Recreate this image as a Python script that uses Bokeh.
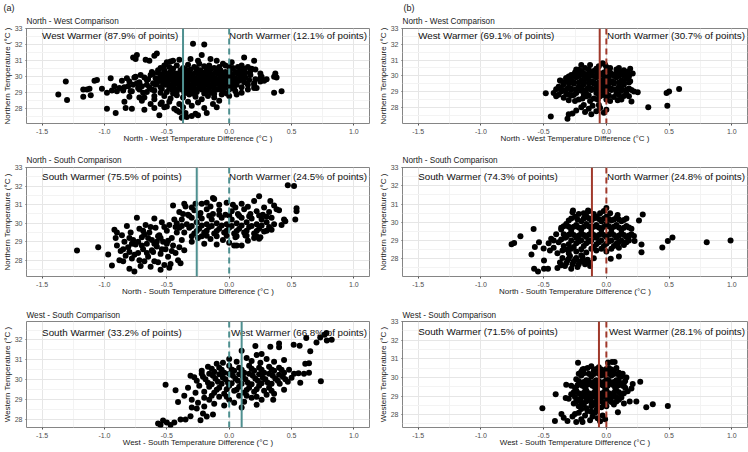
from bokeh.plotting import figure
from bokeh.layouts import column, row
from bokeh.models import FixedTicker, NumeralTickFormatter, Span, Title, Label, ColumnDataSource, Range1d
from bokeh.embed import file_html
from bokeh.resources import INLINE

FONT = "Liberation Sans"
TEAL = "#4F9090"
RED = "#A0392B"

x_ticks = [-1.5, -1.0, -0.5, 0.0, 0.5, 1.0]
x_minor = [-1.25, -0.75, -0.25, 0.25, 0.75]
y_ticks = [28, 29, 30, 31, 32, 33]
y_minor = [27.5, 28.5, 29.5, 30.5, 31.5, 32.5]

tags = ["(a)", "(b)"]
subtitles = ["North - West Comparison", "North - South Comparison", "West - South Comparison"]
x_labels = ["North - West Temperature Difference (°C )",
            "North - South Temperature Difference (°C )",
            "West - South Temperature Difference (°C )"]
y_labels = ["Northern Temperature (°C )", "Northern Temperature (°C )", "Western Temperature (°C )"]

left_texts = [["West Warmer (87.9% of points)", "West Warmer (69.1% of points)"],
              ["South Warmer (75.5% of points)", "South Warmer (74.3% of points)"],
              ["South Warmer (33.2% of points)", "South Warmer (71.5% of points)"]]
right_texts = [["North Warmer (12.1% of points)", "North Warmer (30.7% of points)"],
               ["North Warmer (24.5% of points)", "North Warmer (24.8% of points)"],
               ["West Warmer (66.8% of points)", "West Warmer (28.1% of points)"]]

mean_diffs = [[-0.37, -0.053], [-0.26, -0.115], [0.10, -0.059]]

# ---------------- data: (difference, temperature) ----------------
nw_a = [
    (-1.37, 28.90), (-1.31, 29.70), (-1.30, 28.55), (-1.17, 29.20), (-1.17, 28.75), (-1.14, 29.20),
    (-1.12, 29.25), (-1.11, 28.85), (-1.08, 29.75), (-1.06, 29.80), (-1.02, 29.25), (-0.98, 29.00),
    (-0.98, 28.00), (-0.95, 29.90), (-0.94, 29.15), (-0.91, 27.75), (-0.90, 29.10), (-0.88, 29.30),
    (-0.86, 29.75), (-0.85, 29.15), (-0.84, 28.45), (-0.83, 28.05), (-0.82, 29.90), (-0.81, 29.40),
    (-0.80, 28.75), (-0.79, 29.10), (-0.78, 28.00), (-0.77, 31.20), (-0.76, 29.95), (-0.75, 31.10),
    (-0.74, 31.35), (-0.74, 29.60), (-0.73, 29.30), (-0.72, 28.70), (-0.71, 30.10), (-0.70, 28.50),
    (-0.69, 29.00), (-0.68, 27.95), (-0.67, 31.05), (-0.66, 29.50), (-0.65, 29.85), (-0.64, 31.00),
    (-0.63, 28.30), (-0.62, 29.20), (-0.61, 30.20), (-0.60, 31.30), (-0.60, 28.80), (-0.58, 31.45),
    (-0.58, 29.60), (-0.57, 30.40), (-0.56, 27.60), (-0.55, 29.00), (-0.54, 28.40), (-0.53, 29.90),
    (-0.52, 30.70), (-0.52, 28.10),
    (-0.50, 30.90), (-0.47, 30.95), (-0.45, 31.00), (-0.40, 31.05), (-0.31, 31.10), (-0.22, 31.35),
    (-0.25, 31.00), (-0.15, 31.10), (-0.10, 31.00), (-0.05, 30.80), (0.02, 30.90), (0.12, 31.20), (0.20, 31.00),
    (-0.55, 30.55), (-0.48, 30.60), (-0.42, 30.70), (-0.37, 30.55), (-0.33, 30.75), (-0.28, 30.60),
    (-0.24, 30.80), (-0.20, 30.65), (-0.16, 30.70), (-0.12, 30.55), (-0.08, 30.60), (-0.03, 30.70),
    (0.03, 30.55), (0.07, 30.60), (0.10, 30.70), (0.15, 30.60), (0.18, 30.50),
    (-0.62, 30.30), (-0.57, 30.25), (-0.52, 30.40), (-0.47, 30.30), (-0.43, 30.20), (-0.39, 30.40),
    (-0.35, 30.30), (-0.31, 30.45), (-0.27, 30.25), (-0.23, 30.40), (-0.19, 30.30), (-0.15, 30.45),
    (-0.11, 30.25), (-0.07, 30.40), (-0.03, 30.30), (0.01, 30.45), (0.05, 30.30), (0.09, 30.40),
    (0.13, 30.25), (0.17, 30.35), (0.21, 30.45), (0.25, 30.20),
    (-0.75, 30.00), (-0.68, 29.95), (-0.63, 30.10), (-0.59, 29.90), (-0.55, 30.05), (-0.51, 29.95),
    (-0.47, 30.10), (-0.43, 29.90), (-0.39, 30.05), (-0.35, 29.95), (-0.31, 30.10), (-0.27, 29.90),
    (-0.23, 30.05), (-0.19, 29.95), (-0.15, 30.10), (-0.11, 29.90), (-0.07, 30.05), (-0.03, 29.95),
    (0.01, 30.10), (0.05, 29.90), (0.09, 30.05), (0.13, 29.95), (0.17, 30.10), (0.21, 29.85),
    (0.26, 30.00), (0.28, 29.75),
    (-0.80, 29.70), (-0.72, 29.65), (-0.66, 29.80), (-0.61, 29.60), (-0.56, 29.75), (-0.52, 29.65),
    (-0.48, 29.80), (-0.44, 29.60), (-0.40, 29.75), (-0.36, 29.65), (-0.32, 29.80), (-0.28, 29.60),
    (-0.24, 29.75), (-0.20, 29.65), (-0.16, 29.80), (-0.12, 29.60), (-0.08, 29.75), (-0.04, 29.65),
    (0.00, 29.80), (0.04, 29.60), (0.08, 29.75), (0.12, 29.65), (0.16, 29.80), (0.20, 29.60), (0.25, 29.70),
    (-0.92, 29.40), (-0.84, 29.35), (-0.77, 29.50), (-0.70, 29.40), (-0.64, 29.35), (-0.59, 29.50),
    (-0.55, 29.35), (-0.51, 29.50), (-0.47, 29.40), (-0.43, 29.55), (-0.39, 29.35), (-0.35, 29.50),
    (-0.31, 29.40), (-0.27, 29.55), (-0.23, 29.35), (-0.19, 29.50), (-0.15, 29.40), (-0.11, 29.55),
    (-0.07, 29.35), (-0.03, 29.50), (0.02, 29.40), (0.06, 29.50), (0.10, 29.35), (0.15, 29.50), (0.20, 29.30),
    (-0.78, 29.10), (-0.72, 29.20), (-0.66, 29.05), (-0.60, 29.15), (-0.54, 29.25), (-0.50, 29.05),
    (-0.46, 29.20), (-0.42, 29.10), (-0.38, 29.20), (-0.34, 29.00), (-0.30, 29.15), (-0.26, 29.05),
    (-0.22, 29.20), (-0.18, 29.10), (-0.14, 29.00), (-0.10, 29.20), (-0.05, 29.05), (0.00, 29.20),
    (0.05, 29.10), (0.10, 29.00), (0.15, 29.20),
    (-0.68, 28.70), (-0.60, 28.60), (-0.52, 28.80), (-0.47, 28.65), (-0.42, 28.85), (-0.37, 28.70),
    (-0.32, 28.90), (-0.27, 28.75), (-0.22, 28.60), (-0.17, 28.80), (-0.12, 28.70), (-0.06, 28.90),
    (0.00, 28.80), (0.06, 28.90),
    (-0.60, 28.05), (-0.55, 28.30), (-0.50, 28.15), (-0.48, 28.45), (-0.44, 28.00), (-0.40, 28.30),
    (-0.37, 28.10), (-0.33, 28.45), (-0.30, 28.20), (-0.25, 28.40), (-0.20, 28.05), (-0.13, 28.30),
    (-0.08, 28.50), (-0.10, 28.10),
    (-0.38, 27.45), (-0.36, 27.60), (-0.34, 27.50), (-0.35, 27.75), (-0.30, 27.55), (-0.27, 27.70),
    (-0.25, 27.60), (-0.18, 27.75), (-0.42, 27.90), (-0.40, 27.80),
    (-0.29, 32.05), (-0.20, 32.00),
    (0.42, 29.10), (0.36, 29.00), (0.36, 30.00), (0.37, 30.20), (0.38, 29.95), (0.30, 29.85),
    (0.22, 29.30), (0.20, 29.50), (0.25, 29.90),
    (-0.53, 30.18), (-0.49, 30.20), (-0.45, 30.15), (-0.41, 30.18), (-0.37, 30.15), (-0.33, 30.20),
    (-0.29, 30.15), (-0.25, 30.18), (-0.21, 30.15), (-0.17, 30.20), (-0.13, 30.15), (-0.09, 30.18),
    (-0.05, 30.15), (-0.01, 30.20), (0.03, 30.15), (0.07, 30.18), (0.11, 30.15),
    (-0.50, 29.82), (-0.46, 29.85), (-0.42, 29.80), (-0.38, 29.85), (-0.34, 29.82), (-0.30, 29.85),
    (-0.26, 29.80), (-0.22, 29.85), (-0.18, 29.82), (-0.14, 29.85), (-0.10, 29.80), (-0.06, 29.85),
    (-0.02, 29.82), (0.02, 29.85), (0.06, 29.80), (0.10, 29.85),
    (-0.53, 29.58), (-0.49, 29.55), (-0.45, 29.60), (-0.41, 29.55), (-0.37, 29.58), (-0.33, 29.55),
    (-0.29, 29.60), (-0.25, 29.55), (-0.21, 29.58), (-0.17, 29.55), (-0.13, 29.60), (-0.09, 29.55),
    (-0.05, 29.58), (-0.01, 29.55), (0.03, 29.60),
    (-0.48, 29.28), (-0.44, 29.25), (-0.40, 29.30), (-0.36, 29.25), (-0.32, 29.28), (-0.28, 29.25),
    (-0.24, 29.30), (-0.20, 29.25), (-0.16, 29.28), (-0.12, 29.25), (-0.08, 29.22), (-0.04, 29.28),
    (0.04, 29.25),
    (-0.45, 28.95), (-0.36, 28.98), (-0.28, 28.92), (-0.20, 28.95), (-0.12, 28.92), (-0.02, 28.95),
    (-0.45, 30.50), (-0.35, 30.45), (-0.26, 30.50), (-0.18, 30.50), (-0.10, 30.45), (0.00, 30.60),
    (0.12, 30.50),
]

nw_b = [
    (0.58, 29.16), (0.50, 29.00), (0.48, 28.90), (0.486, 28.10), (0.334, 28.00), (0.25, 28.95),
    (0.20, 28.36), (-0.483, 28.89), (-0.443, 27.41), (-0.31, 27.27),
    (-0.20, 30.68), (-0.13, 30.68), (-0.03, 30.80), (-0.01, 30.70), (-0.17, 30.50), (-0.08, 30.45),
    (0.03, 30.50), (0.08, 30.40), (0.19, 30.45), (-0.24, 30.40),
    (-0.25, 30.20), (-0.20, 30.30), (-0.15, 30.10), (-0.10, 30.30), (-0.05, 30.15), (0.00, 30.30),
    (0.05, 30.10), (0.10, 30.25), (0.15, 30.05), (0.21, 30.15), (-0.28, 30.05), (-0.12, 30.05),
    (-0.37, 29.70), (-0.32, 29.85), (-0.28, 29.70), (-0.24, 29.90), (-0.20, 29.70), (-0.16, 29.85),
    (-0.12, 29.65), (-0.08, 29.90), (-0.04, 29.70), (0.00, 29.85), (0.04, 29.65), (0.08, 29.90),
    (0.12, 29.70), (0.16, 29.85), (0.19, 29.65), (-0.02, 29.60), (-0.18, 29.60),
    (-0.38, 29.30), (-0.34, 29.45), (-0.30, 29.25), (-0.26, 29.50), (-0.22, 29.30), (-0.18, 29.45),
    (-0.14, 29.25), (-0.10, 29.50), (-0.06, 29.30), (-0.02, 29.45), (0.02, 29.25), (0.06, 29.50),
    (0.10, 29.30), (0.14, 29.45), (0.18, 29.20), (-0.08, 29.40), (0.00, 29.35),
    (-0.42, 28.90), (-0.36, 29.00), (-0.32, 28.85), (-0.28, 29.10), (-0.24, 28.90), (-0.20, 29.05),
    (-0.16, 28.85), (-0.12, 29.10), (-0.08, 28.90), (-0.04, 29.05), (0.00, 28.85), (0.04, 29.10),
    (0.08, 28.90), (0.12, 29.05), (0.16, 28.85), (0.22, 29.00),
    (-0.40, 28.70), (-0.34, 28.60), (-0.28, 28.75), (-0.22, 28.50), (-0.16, 28.70), (-0.10, 28.55),
    (-0.05, 28.70), (0.00, 28.50), (0.06, 28.65), (0.12, 28.50), (-0.25, 28.40),
    (-0.27, 27.60), (-0.24, 27.80), (-0.20, 28.00), (-0.17, 27.70), (-0.14, 27.90), (-0.11, 28.10),
    (-0.08, 27.75), (-0.05, 27.95), (-0.02, 27.65), (0.00, 27.85), (-0.12, 27.55), (-0.30, 27.55),
    (-0.06, 28.15), (-0.18, 28.15),
    (-0.364, 29.69), (-0.32, 29.84), (-0.38, 29.27),
    (-0.22, 30.38), (-0.14, 30.38), (-0.06, 30.60), (0.00, 30.55), (0.10, 30.50), (0.14, 30.35),
    (-0.22, 30.20), (-0.18, 30.15), (-0.12, 30.20), (-0.07, 30.20), (-0.02, 30.20), (0.03, 30.20),
    (0.08, 30.15), (0.12, 30.15), (0.17, 30.25),
    (-0.30, 29.95), (-0.26, 29.98), (-0.22, 30.00), (-0.18, 29.98), (-0.14, 29.95), (-0.10, 29.98),
    (-0.06, 30.00), (-0.02, 29.98), (0.02, 29.95), (0.06, 29.98), (0.10, 30.00), (0.14, 29.98), (0.18, 29.95),
    (-0.34, 29.58), (-0.30, 29.55), (-0.26, 29.60), (-0.22, 29.58), (-0.14, 29.55), (-0.10, 29.60),
    (-0.06, 29.58), (0.02, 29.55), (0.06, 29.60), (0.10, 29.58), (0.14, 29.55), (0.18, 29.58),
    (-0.40, 29.15), (-0.36, 29.18), (-0.32, 29.12), (-0.28, 29.18), (-0.24, 29.15), (-0.20, 29.20),
    (-0.16, 29.12), (-0.12, 29.18), (-0.08, 29.15), (-0.04, 29.20), (0.00, 29.12), (0.04, 29.18),
    (0.08, 29.15), (0.12, 29.20), (0.16, 29.12), (0.20, 29.10),
    (-0.38, 28.80), (-0.30, 28.80), (-0.26, 28.78), (-0.18, 28.78), (-0.14, 28.75), (-0.06, 28.78),
    (-0.02, 28.78), (0.02, 28.75), (0.10, 28.78), (0.14, 28.72), (0.18, 28.70),
    (-0.30, 28.45), (-0.19, 28.55), (-0.13, 28.40), (-0.07, 28.50), (0.03, 28.40), (0.09, 28.45),
]

ns_a = [
    (-1.22, 28.53), (-1.05, 28.71), (-0.97, 28.31),
    (-0.94, 27.72), (-0.92, 29.65), (-0.91, 29.20), (-0.90, 28.80), (-0.88, 28.00), (-0.87, 28.50),
    (-0.86, 29.35), (-0.85, 27.95), (-0.84, 29.00), (-0.83, 28.25), (-0.82, 29.85), (-0.81, 28.70),
    (-0.80, 27.55), (-0.79, 29.50), (-0.78, 28.10), (-0.77, 29.10), (-0.76, 27.40), (-0.75, 28.85),
    (-0.74, 30.30), (-0.73, 28.40), (-0.72, 29.70), (-0.71, 27.70), (-0.70, 29.25), (-0.69, 28.60),
    (-0.68, 27.95), (-0.67, 29.90), (-0.66, 28.90), (-0.65, 28.20), (-0.64, 29.50), (-0.63, 27.65),
    (-0.62, 29.10), (-0.61, 28.45), (-0.60, 30.25), (-0.59, 29.75), (-0.58, 28.75), (-0.57, 27.90),
    (-0.56, 29.35), (-0.55, 28.35), (-0.54, 30.05), (-0.53, 29.00), (-0.52, 27.75), (-0.51, 28.60),
    (-0.50, 29.60), (-0.49, 28.20), (-0.48, 29.90), (-0.47, 27.80), (-0.46, 29.20), (-0.45, 28.80),
    (-0.44, 30.20), (-0.43, 28.40), (-0.42, 29.50), (-0.41, 28.00), (-0.40, 29.75), (-0.39, 27.85),
    (-0.38, 29.10), (-0.37, 30.50), (-0.36, 28.55),
    (-0.90, 29.50), (-0.85, 28.60), (-0.80, 29.20), (-0.76, 28.30), (-0.73, 29.00), (-0.69, 29.60),
    (-0.66, 28.40), (-0.63, 29.80), (-0.60, 28.90), (-0.57, 29.30), (-0.54, 28.60), (-0.52, 29.80),
    (-0.49, 29.05), (-0.46, 28.50), (-0.43, 29.80), (-0.40, 28.70), (-0.72, 28.00), (-0.80, 28.45),
    (-0.58, 29.00), (-0.65, 29.20), (-0.48, 27.60), (-0.55, 27.50), (-0.60, 27.95),
    (-0.70, 28.80), (-0.62, 28.55), (-0.55, 29.20), (-0.50, 28.90), (-0.68, 29.40), (-0.78, 28.90),
    (-0.45, 30.95), (-0.35, 30.90), (-0.22, 31.05), (-0.12, 31.30), (-0.08, 31.00), (-0.02, 31.10),
    (0.03, 31.00), (0.10, 31.05), (0.24, 31.45), (0.20, 31.20), (0.33, 31.20), (-0.18, 31.10),
    (-0.27, 31.05), (-0.36, 31.05), (-0.13, 31.36),
    (-0.30, 30.85), (-0.15, 30.90), (0.05, 30.85), (0.15, 30.88), (0.28, 30.85),
    (-0.40, 30.60), (-0.33, 30.45), (-0.28, 30.70), (-0.23, 30.55), (-0.18, 30.75), (-0.13, 30.50),
    (-0.08, 30.70), (-0.03, 30.45), (0.02, 30.65), (0.07, 30.50), (0.12, 30.75), (0.17, 30.50),
    (0.22, 30.65), (0.27, 30.45), (0.32, 30.60), (0.38, 30.75), (0.40, 30.70),
    (-0.32, 30.40), (-0.24, 30.42), (-0.16, 30.40), (-0.08, 30.45), (0.00, 30.42), (0.08, 30.40),
    (0.16, 30.38), (0.24, 30.42), (0.30, 30.35),
    (-0.42, 30.00), (-0.38, 30.20), (-0.34, 29.95), (-0.30, 30.30), (-0.26, 30.05), (-0.22, 30.25),
    (-0.18, 29.95), (-0.14, 30.20), (-0.10, 30.00), (-0.06, 30.30), (-0.02, 29.95), (0.02, 30.20),
    (0.06, 30.00), (0.10, 30.30), (0.14, 30.05), (0.18, 30.25), (0.22, 29.95), (0.26, 30.20),
    (0.30, 30.05), (0.34, 30.30), (0.36, 29.95),
    (-0.38, 29.85), (-0.30, 29.85), (-0.22, 29.88), (-0.14, 29.85), (-0.06, 29.88), (0.02, 29.85),
    (0.10, 29.88), (0.18, 29.85), (0.26, 29.88), (0.34, 29.65),
    (-0.36, 29.50), (-0.32, 29.75), (-0.28, 29.45), (-0.24, 29.70), (-0.20, 29.50), (-0.16, 29.80),
    (-0.12, 29.45), (-0.08, 29.70), (-0.04, 29.50), (0.00, 29.75), (0.04, 29.45), (0.08, 29.70),
    (0.12, 29.50), (0.16, 29.80), (0.20, 29.45), (0.24, 29.70), (0.28, 29.55), (0.32, 29.80),
    (-0.26, 29.58), (-0.18, 29.60), (-0.10, 29.58), (-0.02, 29.60), (0.06, 29.58), (0.14, 29.60),
    (0.22, 29.58), (0.30, 29.60),
    (-0.30, 29.30), (-0.18, 29.32), (-0.10, 29.30), (-0.02, 29.32), (0.06, 29.30), (0.14, 29.32),
    (0.22, 29.28),
    (-0.30, 29.00), (-0.25, 29.20), (-0.20, 28.90), (-0.15, 29.15), (-0.10, 28.85), (-0.05, 29.10),
    (0.00, 28.95), (0.05, 29.25), (0.10, 28.80), (0.15, 29.05), (0.20, 29.20), (0.25, 29.25),
    (0.06, 28.80), (-0.22, 29.30), (0.13, 29.34), (0.24, 29.16), (0.04, 28.80),
    (0.47, 32.05), (0.52, 32.00), (0.54, 30.80), (0.54, 30.65), (0.53, 30.20), (0.45, 30.10),
    (0.42, 29.90), (0.36, 30.95), (0.44, 30.20),
]

ns_b = [
    (-0.756, 28.79), (-0.735, 28.86), (-0.685, 29.23), (-0.597, 28.24), (-0.58, 29.63), (-0.57, 28.64),
    (-0.576, 27.45), (-0.545, 27.30), (-0.497, 27.90), (-0.497, 27.45), (-0.465, 27.46), (-0.537, 28.91),
    (-0.50, 28.57),
    (0.446, 28.62), (0.49, 28.97), (0.527, 29.17), (0.80, 28.90), (0.99, 29.00), (0.28, 28.36),
    (0.28, 28.78), (0.225, 28.97), (0.26, 30.10), (0.29, 30.42), (0.10, 28.13), (0.035, 28.00),
    (-0.10, 28.03),
    (-0.46, 28.85), (-0.44, 29.10), (-0.42, 28.60), (-0.40, 29.35), (-0.38, 28.90), (-0.36, 29.60),
    (-0.34, 28.70), (-0.33, 29.15), (-0.45, 28.45), (-0.39, 28.30), (-0.31, 28.50),
    (-0.39, 27.50), (-0.37, 27.80), (-0.35, 28.05), (-0.33, 27.60), (-0.31, 27.90), (-0.29, 28.15),
    (-0.27, 27.70), (-0.25, 27.95), (-0.23, 27.55), (-0.21, 27.85), (-0.19, 28.10), (-0.17, 27.70),
    (-0.15, 27.95), (-0.13, 27.60), (-0.28, 27.45), (-0.20, 28.20),
    (-0.36, 27.65), (-0.32, 27.75), (-0.26, 27.85), (-0.22, 27.70), (-0.18, 27.85), (-0.14, 27.80),
    (-0.24, 28.05), (-0.30, 28.00),
    (-0.266, 30.65), (-0.146, 30.65), (0.00, 30.78), (0.09, 30.40), (-0.27, 30.55), (-0.14, 30.60),
    (-0.22, 30.45), (-0.18, 30.50), (-0.10, 30.45), (-0.05, 30.50), (0.03, 30.50), (-0.02, 30.62),
    (-0.30, 30.10), (-0.25, 30.30), (-0.20, 30.05), (-0.16, 30.35), (-0.12, 30.10), (-0.08, 30.30),
    (-0.04, 30.05), (0.00, 30.30), (0.04, 30.10), (0.08, 30.25), (0.12, 30.05), (0.16, 30.20),
    (-0.28, 30.20), (-0.23, 30.15), (-0.18, 30.20), (-0.14, 30.22), (-0.10, 30.20), (-0.06, 30.18),
    (-0.02, 30.20), (0.02, 30.18), (0.06, 30.15), (0.10, 30.15), (0.14, 30.12),
    (-0.36, 29.70), (-0.32, 29.90), (-0.28, 29.60), (-0.24, 29.85), (-0.20, 29.60), (-0.16, 29.90),
    (-0.12, 29.65), (-0.08, 29.85), (-0.04, 29.60), (0.00, 29.90), (0.04, 29.65), (0.08, 29.85),
    (0.12, 29.60), (0.16, 29.80), (0.20, 29.65),
    (-0.34, 29.78), (-0.30, 29.75), (-0.26, 29.75), (-0.22, 29.72), (-0.18, 29.75), (-0.14, 29.78),
    (-0.10, 29.75), (-0.06, 29.72), (-0.02, 29.75), (0.02, 29.78), (0.06, 29.75), (0.10, 29.72),
    (0.14, 29.70), (0.18, 29.72),
    (-0.32, 29.20), (-0.28, 29.45), (-0.24, 29.15), (-0.20, 29.40), (-0.16, 29.20), (-0.12, 29.45),
    (-0.08, 29.15), (-0.04, 29.40), (0.00, 29.20), (0.04, 29.45), (0.08, 29.15), (0.12, 29.40),
    (0.16, 29.20), (0.20, 29.35), (-0.06, 29.30),
    (-0.34, 29.35), (-0.30, 29.32), (-0.26, 29.30), (-0.22, 29.28), (-0.18, 29.30), (-0.14, 29.32),
    (-0.10, 29.30), (-0.02, 29.30), (0.02, 29.32), (0.06, 29.30), (0.10, 29.28), (0.14, 29.30),
    (0.18, 29.28), (0.22, 29.25),
    (-0.30, 28.80), (-0.26, 28.65), (-0.22, 28.95), (-0.18, 28.70), (-0.14, 28.95), (-0.10, 28.65),
    (-0.06, 28.90), (-0.02, 28.70), (0.02, 28.95), (0.06, 28.70), (0.10, 28.90), (0.14, 28.75),
    (0.18, 29.00),
    (-0.28, 29.00), (-0.24, 28.85), (-0.20, 29.02), (-0.16, 28.85), (-0.12, 29.02), (-0.08, 28.80),
    (-0.04, 29.00), (0.00, 28.82), (0.04, 29.00), (0.08, 28.82), (0.12, 29.00), (0.16, 28.90),
    (-0.36, 29.05), (-0.42, 29.00),
    (-0.24, 28.40), (-0.16, 28.35), (-0.08, 28.45), (0.00, 28.40), (-0.30, 28.30),
    (-0.28, 28.55), (-0.20, 28.52), (-0.12, 28.55), (-0.04, 28.55), (0.04, 28.55), (0.10, 28.60),
    (-0.35, 28.45),
]

ws_a = [
    (-0.57, 27.80), (-0.55, 27.72), (-0.53, 27.95), (-0.50, 27.85), (-0.47, 27.72), (-0.44, 27.85),
    (-0.39, 28.00), (-0.35, 28.00), (-0.31, 28.17), (-0.23, 27.97), (-0.21, 28.30), (-0.18, 28.15),
    (-0.13, 28.25), (-0.26, 28.55), (-0.30, 28.60),
    (-0.51, 29.75), (-0.43, 29.47), (-0.41, 28.88), (-0.33, 29.60), (-0.31, 30.20), (-0.28, 30.13),
    (-0.36, 29.20), (-0.30, 29.00), (-0.27, 29.35), (-0.25, 28.85), (-0.24, 29.70), (-0.22, 30.30),
    (-0.20, 29.10),
    (-0.05, 30.85), (0.00, 31.05), (0.06, 30.90), (0.10, 31.46), (0.14, 31.10), (0.18, 30.95),
    (0.21, 31.70), (0.22, 31.25), (0.26, 31.30), (0.30, 31.05), (0.33, 31.66), (0.36, 30.90),
    (0.40, 31.83), (0.40, 31.63), (0.44, 31.00), (0.25, 30.85), (-0.10, 30.80),
    (-0.14, 30.55), (-0.06, 30.50), (0.02, 30.52), (0.10, 30.50), (0.18, 30.55), (0.26, 30.50),
    (0.34, 30.52), (0.42, 30.50),
    (-0.22, 30.45), (-0.17, 30.65), (-0.12, 30.40), (-0.08, 30.60), (-0.04, 30.35), (0.00, 30.70),
    (0.04, 30.45), (0.08, 30.60), (0.12, 30.35), (0.16, 30.70), (0.20, 30.45), (0.24, 30.60),
    (0.28, 30.35), (0.32, 30.65), (0.36, 30.45), (0.40, 30.60), (0.44, 30.35), (0.48, 30.50),
    (0.52, 30.30), (0.556, 30.33), (0.60, 30.30), (0.64, 30.35), (0.61, 30.80), (0.64, 30.83),
    (-0.16, 30.30), (-0.08, 30.28), (0.00, 30.30), (0.08, 30.28), (0.16, 30.30), (0.24, 30.28),
    (0.32, 30.30), (0.40, 30.25),
    (-0.26, 29.95), (-0.21, 30.15), (-0.17, 29.85), (-0.13, 30.20), (-0.09, 29.90), (-0.05, 30.10),
    (-0.01, 29.85), (0.03, 30.20), (0.07, 29.95), (0.11, 30.15), (0.15, 29.85), (0.19, 30.20),
    (0.23, 29.95), (0.27, 30.10), (0.31, 29.85), (0.35, 30.20), (0.39, 29.95), (0.43, 30.15),
    (0.47, 29.90), (0.50, 30.10), (0.405, 29.80), (0.57, 29.85), (0.735, 29.93),
    (-0.19, 30.02), (-0.11, 30.05), (-0.03, 30.02), (0.05, 30.05), (0.13, 30.02), (0.21, 30.05),
    (0.29, 30.02), (0.37, 30.05), (0.45, 30.02),
    (-0.14, 29.78), (-0.06, 29.80), (0.02, 29.82), (0.10, 29.80), (0.18, 29.78), (0.26, 29.82),
    (0.34, 29.80),
    (-0.20, 29.40), (-0.16, 29.65), (-0.12, 29.35), (-0.08, 29.60), (-0.04, 29.30), (0.00, 29.70),
    (0.04, 29.45), (0.08, 29.65), (0.12, 29.35), (0.16, 29.60), (0.20, 29.40), (0.24, 29.70),
    (0.28, 29.45), (0.32, 29.60), (0.36, 29.30), (0.44, 29.50), (0.30, 29.25),
    (-0.10, 29.50), (-0.02, 29.52), (0.06, 29.50), (0.14, 29.48), (0.22, 29.52), (0.34, 29.45),
    (-0.14, 29.20), (-0.02, 29.15), (0.14, 29.20), (0.22, 29.15),
    (-0.16, 29.00), (-0.12, 28.80), (-0.08, 29.15), (-0.04, 28.70), (0.00, 29.00), (0.04, 28.85),
    (0.08, 29.20), (0.12, 28.90), (0.18, 29.10), (0.22, 28.75), (0.26, 29.00), (0.353, 29.00),
    (-0.20, 28.65), (0.10, 28.60),
    (0.822, 32.01), (0.783, 31.97), (0.764, 32.26), (0.73, 32.13), (0.70, 31.88), (0.618, 32.10),
    (0.565, 31.71), (0.517, 31.76), (0.65, 31.43), (0.78, 32.35),
]

ws_b = [
    (-0.51, 28.35), (-0.404, 29.10), (-0.41, 27.66), (-0.358, 28.04), (-0.34, 27.83), (-0.324, 28.90),
    (-0.32, 29.60), (-0.28, 29.55), (-0.31, 27.66), (-0.25, 28.04), (-0.24, 27.60), (-0.226, 30.78),
    (-0.19, 30.43), (0.045, 30.83), (0.066, 30.83), (0.013, 30.80), (0.49, 28.47), (0.37, 28.56),
    (0.318, 28.40), (0.239, 28.70), (0.186, 28.70), (0.27, 29.77), (0.21, 29.65), (0.20, 29.40),
    (0.16, 30.00), (0.092, 28.13),
    (-0.27, 27.90), (-0.22, 28.10), (-0.20, 27.75), (-0.17, 27.95), (-0.15, 28.20), (-0.13, 27.70),
    (-0.11, 27.90), (-0.09, 28.10), (-0.07, 27.80), (-0.05, 27.65), (-0.03, 27.95), (-0.01, 27.75),
    (-0.19, 27.60), (-0.08, 28.25), (-0.12, 28.15),
    (-0.20, 30.30), (-0.15, 30.50), (-0.10, 30.35), (-0.06, 30.55), (-0.02, 30.30), (0.02, 30.50),
    (0.06, 30.35), (0.10, 30.25), (-0.12, 30.60),
    (-0.18, 30.45), (-0.08, 30.45), (-0.04, 30.42), (0.00, 30.45), (0.04, 30.42), (0.08, 30.50),
    (-0.22, 30.20), (-0.18, 30.22), (-0.14, 30.20), (-0.10, 30.18), (-0.06, 30.20), (-0.02, 30.15),
    (0.02, 30.20), (0.06, 30.18), (0.10, 30.12), (0.13, 30.20),
    (-0.24, 29.90), (-0.20, 30.10), (-0.16, 29.85), (-0.12, 30.05), (-0.08, 29.85), (-0.04, 30.10),
    (0.00, 29.90), (0.04, 30.10), (0.08, 29.85), (0.12, 30.05), (0.15, 29.80),
    (-0.22, 29.80), (-0.18, 29.75), (-0.14, 29.80), (-0.10, 29.75), (-0.06, 29.80), (-0.02, 29.75),
    (0.02, 29.82), (0.06, 29.75), (0.10, 29.80), (0.14, 29.70),
    (-0.25, 29.45), (-0.21, 29.70), (-0.17, 29.45), (-0.13, 29.70), (-0.09, 29.45), (-0.05, 29.70),
    (-0.01, 29.45), (0.03, 29.70), (0.07, 29.45), (0.11, 29.65), (0.15, 29.45), (-0.07, 29.60),
    (-0.23, 29.58), (-0.19, 29.55), (-0.15, 29.60), (-0.11, 29.55), (-0.03, 29.58), (0.01, 29.55),
    (0.05, 29.60), (0.09, 29.55), (0.13, 29.55),
    (-0.28, 29.10), (-0.24, 29.30), (-0.20, 29.05), (-0.16, 29.30), (-0.12, 29.05), (-0.08, 29.30),
    (-0.04, 29.05), (0.00, 29.30), (0.04, 29.05), (0.08, 29.30), (0.12, 29.10), (0.17, 29.25),
    (-0.02, 29.20),
    (-0.26, 29.20), (-0.22, 29.15), (-0.18, 29.18), (-0.14, 29.15), (-0.10, 29.18), (-0.06, 29.15),
    (0.02, 29.15), (0.06, 29.18), (0.10, 29.20), (0.14, 29.15),
    (-0.25, 28.95), (-0.20, 28.92), (-0.16, 28.95), (-0.12, 28.92), (-0.08, 28.95), (-0.04, 28.92),
    (0.00, 28.95), (0.04, 28.92), (0.08, 28.95), (0.12, 28.92),
    (-0.30, 28.85), (-0.26, 28.60), (-0.22, 28.80), (-0.18, 28.55), (-0.14, 28.80), (-0.10, 28.60),
    (-0.06, 28.85), (-0.02, 28.60), (0.02, 28.80), (0.06, 28.55), (0.10, 28.80), (0.14, 28.60),
    (-0.16, 28.35), (-0.04, 28.40),
    (-0.24, 28.70), (-0.20, 28.68), (-0.16, 28.72), (-0.12, 28.68), (-0.08, 28.70), (-0.04, 28.72),
    (0.00, 28.70), (0.04, 28.68), (0.08, 28.70),
    (-0.22, 28.45), (-0.12, 28.45), (-0.08, 28.50), (0.00, 28.45), (-0.20, 28.30),
]

panel_points = [[nw_a, nw_b], [ns_a, ns_b], [ws_a, ws_b]]
y_ranges = [[(27.09, 33.0), (26.97, 33.0)],
            [(27.13, 33.0), (27.03, 33.0)],
            [(27.60, 32.93), (27.31, 33.0)]]
text_y = [[32.55, 32.55], [32.53, 32.53], [32.38, 32.48]]
row_heights = [150, 150, 152]
top_borders = [28, 17, 21]
bottom_borders = [27, 24, 25]
sub_standoff = [5, 6, 3]


def make_panel(r, c):
    pts = panel_points[r][c]
    color = TEAL if c == 0 else RED
    y0, y1 = y_ranges[r][c]
    p = figure(width=374, height=row_heights[r], output_backend="svg", toolbar_location=None,
               x_range=Range1d(-1.625, 1.125), y_range=Range1d(y0, y1),
               min_border_left=25 if c == 0 else 28, min_border_right=5 if c == 0 else 1,
               min_border_top=top_borders[r], min_border_bottom=bottom_borders[r])
    p.background_fill_color = "white"
    p.border_fill_color = "white"
    p.outline_line_color = "#858585"
    p.outline_line_width = 1

    for ax, ticks, minor in ((p.xaxis, x_ticks, x_minor), (p.yaxis, y_ticks, y_minor)):
        ax.ticker = FixedTicker(ticks=ticks, minor_ticks=minor)
        ax.axis_line_color = None
        ax.major_tick_line_color = "#555555"
        ax.major_tick_out = 2
        ax.major_tick_in = 0
        ax.minor_tick_line_color = None
        ax.major_label_text_font = FONT
        ax.major_label_text_font_size = "7px"
        ax.major_label_text_color = "#4D4D4D"
        ax.major_label_standoff = 1
        ax.axis_label_text_font = FONT
        ax.axis_label_text_font_size = "8px"
        ax.axis_label_text_font_style = "normal"
        ax.axis_label_text_color = "#1A1A1A"
        ax.axis_label_standoff = -3
    p.yaxis.major_tick_out = 1
    p.yaxis.major_label_standoff = 0
    p.xaxis.formatter = NumeralTickFormatter(format="0.0")
    p.xaxis.axis_label = x_labels[r]

    # y-axis title as a vertical title in the left margin
    p.add_layout(Title(text=y_labels[r], align="center", text_font=FONT, text_font_size="8px",
                       text_font_style="normal", text_color="#1A1A1A", standoff=0), "left")

    for g in (p.xgrid, p.ygrid):
        g.grid_line_color = "#E6E6E6"
        g.grid_line_width = 1
        g.minor_grid_line_color = "#F3F3F3"
        g.minor_grid_line_width = 1

    src = ColumnDataSource(data=dict(x=[q[0] for q in pts], y=[q[1] for q in pts]))

    p.add_layout(Label(x=-1.5, y=text_y[r][c], text=left_texts[r][c], text_align="left",
                       text_baseline="middle", text_font=FONT, text_font_size="9.8px",
                       text_color="#111111"))
    p.add_layout(Label(x=1.105, y=text_y[r][c], text=right_texts[r][c], text_align="right",
                       text_baseline="middle", text_font=FONT, text_font_size="9.8px",
                       text_color="#111111"))

    p.scatter("x", "y", source=src, size=6, color="black", line_width=0)

    p.add_layout(Span(location=mean_diffs[r][c], dimension="height", line_color=color, line_width=2))
    p.add_layout(Span(location=0.0, dimension="height", line_color=color, line_width=2,
                      line_dash="6 4"))

    p.add_layout(Title(text=subtitles[r], align="left", text_font=FONT, text_font_size="8.2px",
                       text_font_style="normal", text_color="#1A1A1A", standoff=sub_standoff[r]), "above")
    if r == 0:
        p.add_layout(Title(text=tags[c], align="left", text_font=FONT, text_font_size="9px",
                           text_font_style="normal", text_color="#1A1A1A", standoff=0,
                           offset=-23 if c == 0 else 1), "above")
    return p


rows = [row(make_panel(r, 0), make_panel(r, 1)) for r in range(3)]
layout = column(*rows)

open("out.html", "w").write(file_html(layout, INLINE))
